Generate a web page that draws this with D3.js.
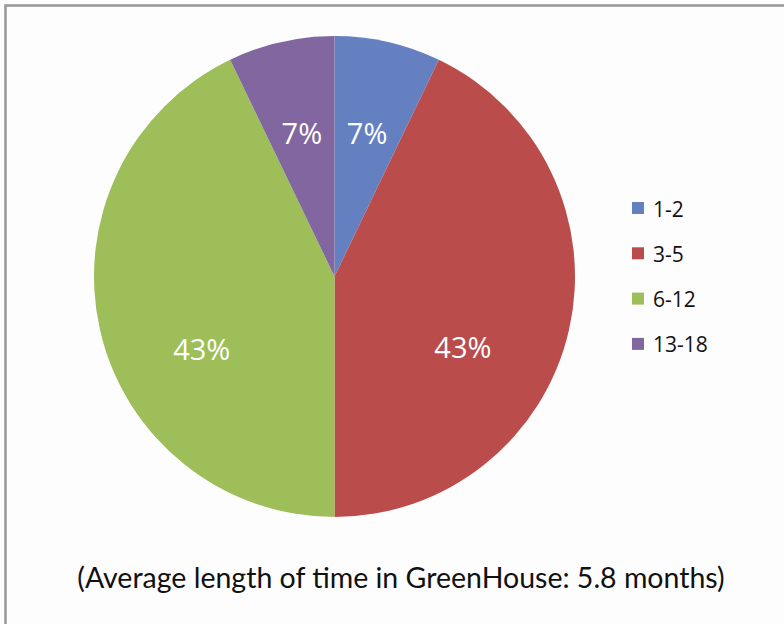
<!DOCTYPE html>
<html>
<head>
<meta charset="utf-8">
<script src="https://cdn.jsdelivr.net/npm/d3@7"></script>
<style>
  html, body { margin: 0; padding: 0; background: #fdfdfd; }
  svg { display: block; }
</style>
</head>
<body>
<script>
// Months spent in GreenHouse, share of residents per range
const categories = ["1-2", "3-5", "6-12", "13-18"];
const shares = [7, 43, 43, 7];
const counts = [1, 6, 6, 1];
const colors = ["#6580C1", "#BA4C4B", "#9EBE59", "#8166A0"];
const caption = "(Average length of time in GreenHouse: 5.8 months)";

const W = 784, H = 624;
const cx = 334.5, cy = 276.5, R = 240.5;

const svg = d3.select("body").append("svg")
  .attr("width", W).attr("height", H);

svg.append("rect")
  .attr("x", 0).attr("y", 0).attr("width", W).attr("height", H)
  .attr("fill", "#fdfdfd");

// chart frame
svg.append("rect")
  .attr("x", 5.5).attr("y", 5.5)
  .attr("width", W + 20).attr("height", H + 20)
  .attr("fill", "none")
  .attr("stroke", "#9a9a9a")
  .attr("stroke-width", 2.6);

const data = categories.map((c, i) => ({ cat: c, share: shares[i], count: counts[i], color: colors[i] }));

const pie = d3.pie().sort(null).value(d => d.count);
const arcs = pie(data);
const arc = d3.arc().innerRadius(0).outerRadius(R);

const g = svg.append("g").attr("transform", `translate(${cx},${cy})`);

g.selectAll("path.slice")
  .data(arcs)
  .join("path")
  .attr("class", "slice")
  .attr("d", arc)
  .attr("fill", d => d.data.color);

// labels sit inside each slice; wide slices get their label swung toward the bottom
const labelR = R * 0.61;
g.selectAll("text.pct")
  .data(arcs)
  .join("text")
  .attr("class", "pct")
  .each(function(d) {
    const mid = (d.startAngle + d.endAngle) / 2;
    const wide = (d.endAngle - d.startAngle) > Math.PI / 2;
    const a = mid + (wide ? 0.28 * Math.sign(Math.PI - mid) : 0);
    const r = wide && mid > Math.PI ? labelR + 5 : labelR;
    d3.select(this)
      .attr("x", r * Math.sin(a))
      .attr("y", -r * Math.cos(a));
  })
  .attr("dy", "0.36em")
  .attr("text-anchor", "middle")
  .attr("fill", "#ffffff")
  .attr("font-family", "'Open Sans', sans-serif")
  .attr("font-size", 29)
  .text(d => d.data.share + "%");

// legend
const legend = svg.append("g").attr("transform", "translate(632,202)");
const item = legend.selectAll("g.item")
  .data(data)
  .join("g")
  .attr("class", "item")
  .attr("transform", (d, i) => `translate(0,${i * 45.3})`);

item.append("rect")
  .attr("width", 12).attr("height", 12)
  .attr("fill", d => d.color);

item.append("text")
  .attr("x", 21).attr("y", 7)
  .attr("dy", "0.36em")
  .attr("fill", "#111111")
  .attr("font-family", "'Open Sans', sans-serif")
  .attr("font-size", 21)
  .text(d => d.cat);

svg.append("text")
  .attr("x", 401).attr("y", 577.5)
  .attr("dy", "0.36em")
  .attr("text-anchor", "middle")
  .attr("fill", "#111111")
  .attr("font-family", "Lato, sans-serif")
  .attr("font-size", 28.5)
  .text(caption);
</script>
</body>
</html>
